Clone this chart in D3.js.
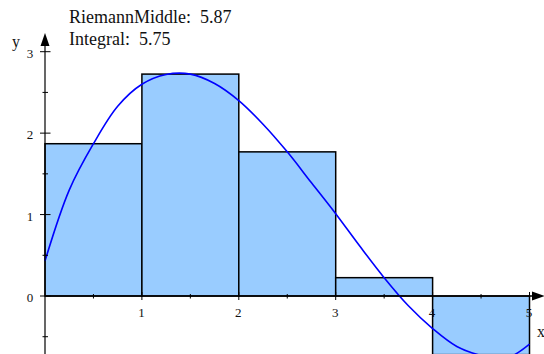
<!DOCTYPE html>
<html>
<head>
<meta charset="utf-8">
<script src="https://cdn.jsdelivr.net/npm/d3@7"></script>
<style>
  html, body { margin: 0; padding: 0; background: #fff; }
  svg { display: block; }
  text { font-family: "Liberation Serif", "Times New Roman", serif; fill: #111; }
</style>
</head>
<body>
<svg id="chart" width="544" height="354"></svg>
<script>
// Midpoint Riemann sum: one rectangle per unit interval
const intervalStarts = [0, 1, 2, 3, 4];
const midpointValues = [1.87, 2.725, 1.77, 0.225, -0.72];

// Sampled function values along [0, 5]
const curveX = [0, 0.25, 0.5, 0.75, 1, 1.25, 1.5, 1.75, 2, 2.25, 2.5, 2.75, 3, 3.25, 3.5, 3.75, 4, 4.25, 4.5, 4.75, 5];
const curveY = [0.43, 1.30, 1.87, 2.33, 2.60, 2.72, 2.725, 2.61, 2.40, 2.11, 1.77, 1.39, 1.01, 0.61, 0.225, -0.12, -0.40, -0.62, -0.73, -0.77, -0.59];

// Axis ticks
const xMajorTicks = [1, 2, 3, 4, 5];
const xMinorTicks = [0.5, 1.5, 2.5, 3.5, 4.5];
const yMajorTicks = [0, 1, 2, 3];
const yMinorTicks = [-0.5, 0.5, 1.5, 2.5];

const riemannLabel = "RiemannMiddle:  5.87";
const integralLabel = "Integral:  5.75";

const svg = d3.select("#chart");

const x = d3.scaleLinear().domain([0, 5]).range([45, 529.5]);
const y = d3.scaleLinear().domain([0, 3]).range([296, 51.7]);

// Rectangles
svg.append("g")
  .selectAll("rect")
  .data(intervalStarts.map((s, i) => ({ s, v: midpointValues[i] })))
  .join("rect")
  .attr("x", d => x(d.s))
  .attr("width", d => x(d.s + 1) - x(d.s))
  .attr("y", d => y(Math.max(0, d.v)))
  .attr("height", d => Math.abs(y(d.v) - y(0)))
  .attr("fill", "#99ccff")
  .attr("stroke", "#000")
  .attr("stroke-width", 1.5);

// Function curve
const line = d3.line()
  .x((d, i) => x(curveX[i]))
  .y(d => y(d))
  .curve(d3.curveCatmullRom.alpha(0.5));

svg.append("path")
  .attr("d", line(curveY))
  .attr("fill", "none")
  .attr("stroke", "#0000ff")
  .attr("stroke-width", 1.6);

// Axes
const axes = svg.append("g").attr("stroke", "#000");

axes.append("line")
  .attr("x1", x(0)).attr("x2", 534)
  .attr("y1", y(0)).attr("y2", y(0))
  .attr("stroke-width", 1.5);
axes.append("path")
  .attr("d", `M545,${y(0)} L532,${y(0) - 4.5} L532,${y(0) + 4.5} Z`)
  .attr("fill", "#000").attr("stroke", "none");

axes.append("line")
  .attr("x1", x(0)).attr("x2", x(0))
  .attr("y1", 44).attr("y2", 354)
  .attr("stroke-width", 1.2);
axes.append("path")
  .attr("d", `M${x(0)},33 L${x(0) - 4.5},46 L${x(0) + 4.5},46 Z`)
  .attr("fill", "#000").attr("stroke", "none");

axes.selectAll(".xmaj").data(xMajorTicks).join("line")
  .attr("x1", d => x(d)).attr("x2", d => x(d))
  .attr("y1", y(0) - 4).attr("y2", y(0) + 4)
  .attr("stroke-width", 1);
axes.selectAll(".xmin").data(xMinorTicks).join("line")
  .attr("x1", d => x(d)).attr("x2", d => x(d))
  .attr("y1", y(0) - 2).attr("y2", y(0) + 2.5)
  .attr("stroke-width", 1);
axes.selectAll(".ymaj").data(yMajorTicks).join("line")
  .attr("x1", x(0) - 5).attr("x2", x(0) + 5.5)
  .attr("y1", d => y(d)).attr("y2", d => y(d))
  .attr("stroke-width", 1);
axes.selectAll(".ymin").data(yMinorTicks).join("line")
  .attr("x1", x(0) - 2.5).attr("x2", x(0) + 3)
  .attr("y1", d => y(d)).attr("y2", d => y(d))
  .attr("stroke-width", 1);

// Tick labels
svg.append("g").selectAll("text").data(xMajorTicks).join("text")
  .attr("x", d => x(d) - 0.5)
  .attr("y", y(0) + 21)
  .attr("text-anchor", "middle")
  .attr("font-size", 13)
  .text(d => d);

svg.append("g").selectAll("text").data(yMajorTicks).join("text")
  .attr("x", 30)
  .attr("y", d => y(d) + 6)
  .attr("text-anchor", "middle")
  .attr("font-size", 13)
  .text(d => d);

// Axis names
svg.append("text").attr("x", 12).attr("y", 47).attr("font-size", 16).text("y");
svg.append("text").attr("x", 537).attr("y", 337).attr("font-size", 16).text("x");

// Sum annotations
svg.append("text").attr("x", 69).attr("y", 23).attr("font-size", 18)
  .style("white-space", "pre").text(riemannLabel);
svg.append("text").attr("x", 69).attr("y", 45).attr("font-size", 18)
  .style("white-space", "pre").text(integralLabel);
</script>
</body>
</html>
